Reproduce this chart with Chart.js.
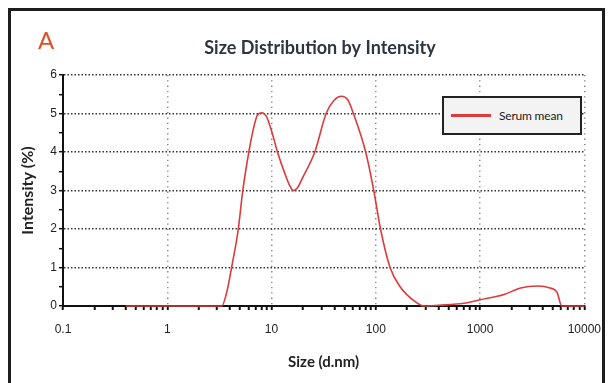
<!DOCTYPE html>
<html>
<head>
<meta charset="utf-8">
<script src="https://cdn.jsdelivr.net/npm/chart.js@4.4.1/dist/chart.umd.min.js"></script>
<style>
    body { margin: 0; background: #fff; }
    #wrap { position: relative; width: 613px; height: 383px; overflow: hidden; }
    #frame {
        position: absolute; left: 8px; top: 8px; width: 597px; height: 400px;
        border: 3px solid #1e1e1e; box-sizing: border-box; pointer-events: none;
    }
    #legendBox {
        position: absolute; left: 442px; top: 96px; width: 140px; height: 39px;
        border: 2px solid #222; background: #f3f3f3; box-sizing: border-box;
        font-family: Lato, 'Liberation Sans', sans-serif; font-size: 12px; color: #222;
    }
    #legendBox .swatch { position: absolute; left: 7px; top: 16px; width: 40px; height: 3px; }
    #legendBox .text { position: absolute; left: 55px; top: 10px; letter-spacing: -0.2px; }
</style>
</head>
<body>
<div id="wrap">
    <canvas id="sizeChart" width="613" height="383"></canvas>
    <div id="frame"></div>
    <div id="legendBox"><span class="swatch"></span><span class="text"></span></div>
</div>
<script>
// values
const sizes = [0.4, 1, 2, 3, 3.33, 3.7, 4.14, 4.8, 5.3, 6.06, 6.7, 7.3, 8.1, 8.9, 10, 11.4,
    13.6, 15, 16.2, 17.8, 20, 26, 33.4, 40, 46.6, 54, 61, 80, 95.6, 111, 137, 171, 242, 290,
    400, 700, 1000, 1700, 2450, 3540, 4690, 5460, 6080, 10000];
const intensity = [0, 0, 0, 0, 0, 0.33, 1, 2, 3, 4, 4.6, 4.95, 5.02, 4.93, 4.55, 4,
    3.4, 3.12, 3.0, 3.08, 3.35, 4, 5, 5.35, 5.45, 5.35, 5, 4, 3, 2, 1, 0.5, 0.1, 0,
    0.02, 0.07, 0.16, 0.3, 0.47, 0.52, 0.47, 0.36, 0, 0];
const seriesLabel = 'Serum mean';
const seriesColor = '#dd3b3b';
const yTicks = [0, 1, 2, 3, 4, 5, 6];
const chartTitle = 'Size Distribution by Intensity';
const panelLetter = 'A';

const points = sizes.map((s, i) => ({ x: s, y: intensity[i] }));

function isDecade(v) {
    const l = Math.log10(v);
    return Math.abs(l - Math.round(l)) < 1e-9;
}

const headerPlugin = {
    id: 'header',
    afterDraw(chart) {
        const ctx = chart.ctx;
        ctx.save();
        ctx.textAlign = 'center';
        ctx.textBaseline = 'middle';
        ctx.fillStyle = '#2c3540';
        ctx.font = 'bold 18px Lato, "Liberation Sans", sans-serif';
        ctx.fillText(chartTitle, 320, 48);
        ctx.fillStyle = '#df5128';
        ctx.font = '24px Lato, "Liberation Sans", sans-serif';
        ctx.fillText(panelLetter, 46, 41);
        ctx.restore();
    }
};

const chart = new Chart(document.getElementById('sizeChart').getContext('2d'), {
    type: 'line',
    data: {
        datasets: [{
            label: seriesLabel,
            data: points,
            borderColor: seriesColor,
            backgroundColor: seriesColor,
            borderWidth: 1.6,
            pointRadius: 0,
            cubicInterpolationMode: 'monotone',
            fill: false,
            clip: 4
        }]
    },
    options: {
        responsive: false,
        devicePixelRatio: 1,
        animation: false,
        layout: { padding: { left: 14, right: 19, top: 75, bottom: 8 } },
        plugins: {
            legend: { display: false },
            title: { display: false },
            tooltip: { enabled: false }
        },
        scales: {
            x: {
                type: 'logarithmic',
                min: 0.1,
                max: 10000,
                afterBuildTicks(scale) {
                    const t = [];
                    for (let d = -1; d <= 3; d++) {
                        for (let k = 1; k <= 9; k++) {
                            t.push({ value: d < 0 ? k / 10 : k * Math.pow(10, d) });
                        }
                    }
                    t.push({ value: 10000 });
                    scale.ticks = t;
                },
                afterFit(scale) { scale.height = 69; },
                border: { display: true, color: '#111', width: 2, dash: [1.3, 4] },
                grid: {
                    color: c => (c.tick && isDecade(c.tick.value) ? '#8a8a8a' : 'rgba(0,0,0,0)'),
                    lineWidth: 1.5,
                    tickColor: '#111',
                    tickLength: 4,
                    tickWidth: 2
                },
                ticks: {
                    autoSkip: false,
                    maxRotation: 0,
                    padding: 12,
                    color: '#222',
                    font: { family: '"Liberation Sans Narrow", "Liberation Sans", sans-serif', size: 12 },
                    callback: v => (isDecade(v) ? String(v) : '')
                },
                title: {
                    display: true,
                    text: 'Size (d.nm)',
                    color: '#222',
                    padding: { top: 0, bottom: 4 },
                    font: { family: 'Lato, "Liberation Sans", sans-serif', size: 15, weight: 'bold' }
                }
            },
            y: {
                min: 0,
                max: 6,
                afterFit(scale) { scale.width = 49; },
                border: { display: true, color: '#111', width: 2, dash: [1.5, 2] },
                grid: {
                    color: c => (c.tick && yTicks.includes(c.tick.value) ? '#333' : 'rgba(0,0,0,0)'),
                    lineWidth: 1.4,
                    tickColor: '#111',
                    tickLength: 4,
                    tickWidth: 1.5
                },
                ticks: {
                    stepSize: 0.5,
                    padding: 2,
                    color: '#222',
                    font: { family: '"Liberation Sans Narrow", "Liberation Sans", sans-serif', size: 12 },
                    callback: v => (yTicks.includes(v) ? String(v) : '')
                },
                title: {
                    display: true,
                    text: 'Intensity (%)',
                    color: '#222',
                    padding: { top: 4, bottom: 0 },
                    font: { family: 'Lato, "Liberation Sans", sans-serif', size: 16, weight: 'bold' }
                }
            }
        }
    },
    plugins: [headerPlugin]
});

// legend box filled from the dataset
const ds = chart.data.datasets[0];
document.querySelector('#legendBox .swatch').style.background = ds.borderColor;
document.querySelector('#legendBox .text').textContent = ds.label;
</script>
</body>
</html>
